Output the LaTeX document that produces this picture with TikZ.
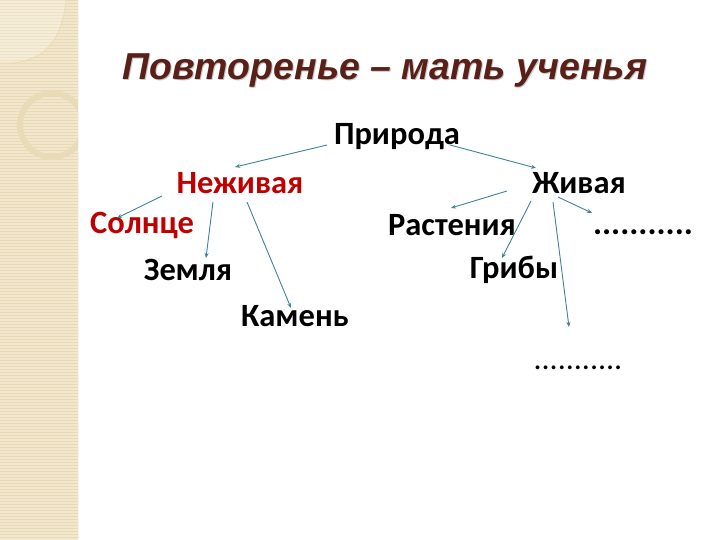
\documentclass[tikz,border=0pt]{standalone}
\usepackage{fontspec}
\setmainfont{Carlito}
\newfontfamily\titlefont{Liberation Sans}
\usetikzlibrary{arrows.meta}
\definecolor{strip}{HTML}{F2E7CC}
\definecolor{stripline}{HTML}{E8DAB6}
\definecolor{deco}{HTML}{E9DBB8}
\definecolor{titlec}{HTML}{5A1F16}
\definecolor{redc}{HTML}{C00000}
\definecolor{arrc}{HTML}{3F8497}
\tikzset{
  lbl/.style={inner sep=0pt, font=\fontsize{32.5}{32.5}\selectfont\bfseries, text=black},
  redlbl/.style={lbl, text=redc},
  dots/.style={inner sep=0pt, font=\fontsize{34}{34}\selectfont\bfseries},
  arr/.style={draw=arrc, line width=0.9pt, -{Stealth[length=5pt,width=4pt]}},
  ttl/.style={inner sep=0pt, font=\fontsize{37.5}{37.5}\titlefont\bfseries\itshape},
}
\begin{document}
\begin{tikzpicture}[x=1pt,y=-1pt]
\useasboundingbox (0,0) rectangle (720,540);
\fill[white] (0,0) rectangle (720,540);
% left strip
\fill[strip] (0,0) rectangle (78,540);
\foreach \yy in {0,3,...,540} \draw[stripline, line width=0.6pt] (0,\yy) -- (78,\yy);
\begin{scope}
\clip (0,0) rectangle (78,540);
\fill[white, opacity=0.25] (0,0) -- (0,63) -- (12,63) .. controls (45,60) and (62,40) .. (66,0) -- cycle;
\draw[deco, line width=0.8pt] (0,63) -- (12,63) .. controls (45,60) and (62,40) .. (66,0);
\draw[deco, line width=6pt] (52,125) circle (32);
\end{scope}
\draw[white!60!strip, line width=1pt] (78,0) -- (78,540);
% title
\node[ttl, text=black!22] at (386,71) {Повторенье – мать ученья};
\node[ttl, text=titlec] (title) at (385,70) {Повторенье – мать ученья};
% nodes
\node[lbl] (pr) at (397,137) {Природа};
\node[redlbl] (nz) at (240,183) {Неживая};
\node[lbl] (zv) at (579,183) {Живая};
\node[redlbl] (sl) at (142,225) {Солнце};
\node[lbl] (rs) at (452,225) {Растения};
\node[dots, anchor=base] (d1) at (643,235) {...........};
\node[lbl] (zm) at (188,270) {Земля};
\node[lbl] (gr) at (514,270) {Грибы};
\node[lbl] (km) at (295,316) {Камень};
\node[dots, anchor=base, font=\fontsize{32}{32}\selectfont\mdseries] (d2) at (578,369) {...........};
% connectors
\draw[arr] ([shift={(-70,8)}]pr.center) -- ([shift={(-5,-16)}]nz.center);
\draw[arr] ([shift={(53,8)}]pr.center) -- ([shift={(-43,-15)}]zv.center);
\draw[arr] ([shift={(-78,13)}]nz.center) -- ([shift={(-25,-7)}]sl.center);
\draw[arr] ([shift={(-27,19)}]nz.center) -- ([shift={(18,-12)}]zm.center);
\draw[arr] ([shift={(7,19)}]nz.center) -- ([shift={(-4,-8)}]km.center);
\draw[arr] ([shift={(-72,8)}]zv.center) -- ([shift={(-1,-17)}]rs.center);
\draw[arr] ([shift={(-48,18)}]zv.center) -- ([shift={(-12,-12)}]gr.center);
\draw[arr] ([shift={(-21,14)}]zv.center) -- ([shift={(-51,-22)}]d1.base);
\draw[arr] ([shift={(-26,19)}]zv.center) -- ([shift={(-9,-42)}]d2.base);
\end{tikzpicture}
\end{document}
